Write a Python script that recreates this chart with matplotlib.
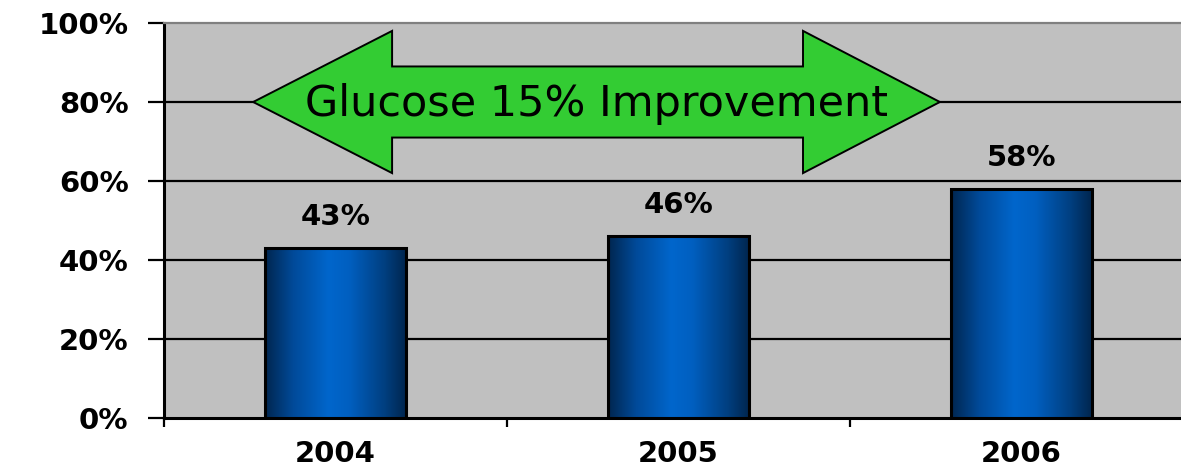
import numpy as np
import matplotlib
matplotlib.use("Agg")
import matplotlib.pyplot as plt
from matplotlib.colors import LinearSegmentedColormap
from matplotlib.patches import Polygon

# chart data
years = ["2004", "2005", "2006"]
values = [43, 46, 58]
y_ticks = [0, 20, 40, 60, 80, 100]
arrow_text = "Glucose 15% Improvement"

BAR_W = 0.41
BG = "#c0c0c0"
GREEN = "#33cc33"
LABEL_SIZE = 21

fig = plt.figure(figsize=(11.81, 4.70), dpi=100)
# axes runs past the right edge of the figure, like the reference
ax = fig.add_axes([164 / 1181, 1 - 418 / 470, 1029 / 1181, 395 / 470])
ax.set_facecolor(BG)

x = np.arange(len(years))

# gradient fill for the bars: dark edges, bright centre
grad = LinearSegmentedColormap.from_list(
    "barblue",
    [(0.0, "#00264f"), (0.2, "#004a99"), (0.45, "#0066cc"),
     (0.6, "#005fc0"), (0.85, "#003f80"), (1.0, "#00264f")])
g = np.linspace(0, 1, 256).reshape(1, -1)
for xi, v in zip(x, values):
    ax.imshow(g, cmap=grad, aspect="auto", interpolation="bilinear",
              extent=(xi - BAR_W / 2, xi + BAR_W / 2, 0, v), zorder=3)
ax.bar(x, values, width=BAR_W, facecolor="none", edgecolor="black",
       linewidth=2.2, zorder=4)

for xi, v in zip(x, values):
    ax.text(xi, v + 4.3, f"{v}%", ha="center", va="bottom",
            fontsize=LABEL_SIZE, fontweight="bold", color="black", zorder=5)

ax.set_xlim(-0.5, 2.5)
ax.set_ylim(0, 100)

# grid lines
for t in y_ticks[1:-1]:
    ax.axhline(t, color="black", linewidth=1.6, zorder=1)

# double-headed arrow annotation
yc = 80
body = 9
head = 18
xl, xlb, xrb, xr = -0.24, 0.165, 1.363, 1.762
pts = [(xl, yc), (xlb, yc + head), (xlb, yc + body), (xrb, yc + body),
       (xrb, yc + head), (xr, yc), (xrb, yc - head), (xrb, yc - body),
       (xlb, yc - body), (xlb, yc - head)]
ax.add_patch(Polygon(pts, closed=True, facecolor=GREEN, edgecolor="black",
                     linewidth=1.4, zorder=6))
ax.text((xl + xr) / 2, yc - 0.5, arrow_text, ha="center", va="center",
        fontsize=31, color="black", zorder=7)

# axes styling
ax.set_yticks(y_ticks)
ax.set_yticklabels([f"{t}%" for t in y_ticks])
ax.set_xticks(x)
ax.set_xticklabels(years)
ax.set_xticks([-0.5, 0.5, 1.5, 2.5], minor=True)
ax.tick_params(axis="y", length=11.5, width=1.6, pad=14,
               labelsize=LABEL_SIZE, direction="out")
ax.tick_params(axis="x", which="major", length=0, pad=16,
               labelsize=LABEL_SIZE)
ax.tick_params(axis="x", which="minor", length=6.5, width=1.6,
               direction="out")
for lab in ax.get_yticklabels() + ax.get_xticklabels():
    lab.set_fontweight("bold")

ax.spines["left"].set_linewidth(2.2)
ax.spines["bottom"].set_linewidth(2.2)
ax.spines["top"].set_color("#808080")
ax.spines["top"].set_linewidth(1.6)
ax.spines["right"].set_visible(False)

fig.savefig("out.png", dpi=100)
